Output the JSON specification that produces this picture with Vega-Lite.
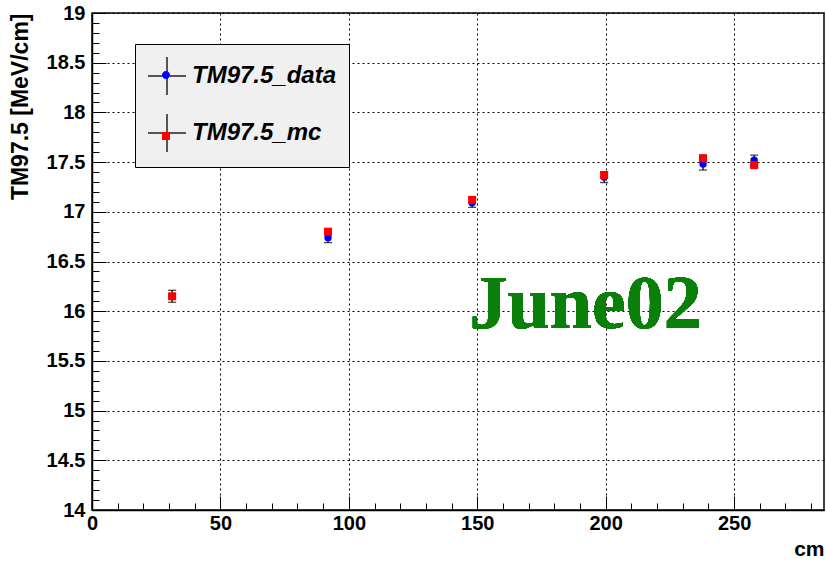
{
  "$schema": "https://vega.github.io/schema/vega-lite/v6.json",
  "width": 732,
  "height": 497,
  "autosize": "none",
  "padding": {"left": 92, "top": 13, "right": 2, "bottom": 51},
  "background": "white",
  "config": {
    "view": {"stroke": "black", "strokeWidth": 1.5},
    "axis": {
      "domainColor": "black",
      "domainWidth": 1.5,
      "tickColor": "black",
      "tickWidth": 1,
      "grid": true,
      "gridColor": "black",
      "gridDash": [2, 3],
      "gridWidth": 1,
      "labelFont": "Liberation Sans",
      "labelFontSize": 20,
      "labelFontWeight": "bold",
      "labelColor": "black",
      "labelOverlap": false,
      "labelFlush": false,
      "titleFont": "Liberation Sans",
      "titleFontSize": 23,
      "titleFontWeight": "bold",
      "titleColor": "black"
    }
  },
  "resolve": {"scale": {"shape": "independent", "color": "independent"}},
  "data": {
    "values": [
      {"x": 31.2, "y": 16.15, "lo": 16.09, "hi": 16.21, "series": "TM97.5_data"},
      {"x": 91.9, "y": 16.74, "lo": 16.69, "hi": 16.79, "series": "TM97.5_data"},
      {"x": 148.0, "y": 17.09, "lo": 17.045, "hi": 17.135, "series": "TM97.5_data"},
      {"x": 199.4, "y": 17.35, "lo": 17.295, "hi": 17.405, "series": "TM97.5_data"},
      {"x": 237.9, "y": 17.48, "lo": 17.42, "hi": 17.54, "series": "TM97.5_data"},
      {"x": 257.8, "y": 17.52, "lo": 17.47, "hi": 17.57, "series": "TM97.5_data"},
      {"x": 31.2, "y": 16.15, "lo": 16.13, "hi": 16.17, "series": "TM97.5_mc"},
      {"x": 91.9, "y": 16.8, "lo": 16.78, "hi": 16.82, "series": "TM97.5_mc"},
      {"x": 148.0, "y": 17.12, "lo": 17.1, "hi": 17.14, "series": "TM97.5_mc"},
      {"x": 199.4, "y": 17.37, "lo": 17.35, "hi": 17.39, "series": "TM97.5_mc"},
      {"x": 237.9, "y": 17.54, "lo": 17.52, "hi": 17.56, "series": "TM97.5_mc"},
      {"x": 257.8, "y": 17.47, "lo": 17.45, "hi": 17.49, "series": "TM97.5_mc"}
    ]
  },
  "encoding": {
    "x": {
      "field": "x",
      "type": "quantitative",
      "scale": {"domain": [0, 285], "nice": false, "zero": false},
      "axis": {
        "title": "cm",
        "values": [0, 10, 20, 30, 40, 50, 60, 70, 80, 90, 100, 110, 120, 130, 140, 150, 160, 170, 180, 190, 200, 210, 220, 230, 240, 250, 260, 270, 280],
        "labelExpr": "datum.value % 50 === 0 ? format(datum.value, '~g') : ''",
        "tickSize": {"condition": {"test": "datum.value % 50 === 0", "value": -14}, "value": -7},
        "gridOpacity": {"condition": {"test": "datum.value % 50 === 0", "value": 1}, "value": 0},
        "labelPadding": 17,
        "titleAnchor": "end",
        "titleAlign": "right",
        "titleX": 732,
        "titleY": 45,
        "titleFontSize": 21,
        "titleBaseline": "alphabetic"
      }
    },
    "y": {
      "field": "y",
      "type": "quantitative",
      "scale": {"domain": [14, 19], "nice": false, "zero": false},
      "axis": {
        "title": "TM97.5 [MeV/cm]",
        "values": [14, 14.1, 14.2, 14.3, 14.4, 14.5, 14.6, 14.7, 14.8, 14.9, 15, 15.1, 15.2, 15.3, 15.4, 15.5, 15.6, 15.7, 15.8, 15.9, 16, 16.1, 16.2, 16.3, 16.4, 16.5, 16.6, 16.7, 16.8, 16.9, 17, 17.1, 17.2, 17.3, 17.4, 17.5, 17.6, 17.7, 17.8, 17.9, 18, 18.1, 18.2, 18.3, 18.4, 18.5, 18.6, 18.7, 18.8, 18.9, 19],
        "labelExpr": "abs(datum.value*2 - round(datum.value*2)) < 0.001 ? format(datum.value, '~g') : ''",
        "tickSize": {"condition": {"test": "abs(datum.value*2 - round(datum.value*2)) < 0.001", "value": -14}, "value": -7},
        "gridOpacity": {"condition": {"test": "abs(datum.value*2 - round(datum.value*2)) < 0.001", "value": 1}, "value": 0},
        "labelPadding": 21,
        "titleAngle": -90,
        "titleX": -72,
        "titleY": 0,
        "titleAlign": "right",
        "titleBaseline": "middle"
      }
    }
  },
  "layer": [
    {
      "mark": {"type": "rule", "color": "black", "strokeWidth": 1.3},
      "encoding": {"y": {"field": "lo", "type": "quantitative"}, "y2": {"field": "hi"}}
    },
    {
      "mark": {"type": "tick", "orient": "horizontal", "size": 8, "thickness": 1.3, "color": "black"},
      "encoding": {"y": {"field": "lo", "type": "quantitative"}}
    },
    {
      "mark": {"type": "tick", "orient": "horizontal", "size": 8, "thickness": 1.3, "color": "black"},
      "encoding": {"y": {"field": "hi", "type": "quantitative"}}
    },
    {
      "transform": [{"filter": "datum.series === 'TM97.5_data'"}],
      "mark": {"type": "point", "shape": "circle", "filled": true, "opacity": 1, "size": 55, "color": "#0000ff"}
    },
    {
      "transform": [{"filter": "datum.series === 'TM97.5_mc'"}],
      "mark": {"type": "point", "shape": "square", "filled": true, "opacity": 1, "size": 64, "color": "#ff0000"}
    },
    {
      "transform": [{"filter": "datum.x < 0"}],
      "mark": {"type": "point", "filled": false, "opacity": 1, "size": 1444, "color": "#222222", "strokeWidth": 1.5},
      "encoding": {
        "shape": {
          "field": "series",
          "type": "nominal",
          "scale": {"domain": ["TM97.5_data", "TM97.5_mc"], "range": ["M-1,0H1M0,-1V1", "M-1,0H1M0,-1V1"]},
          "legend": {
            "orient": "none",
            "legendX": 43,
            "legendY": 31,
            "zindex": 1,
            "title": null,
            "fillColor": "#f0f0f0",
            "strokeColor": "black",
            "padding": 12,
            "symbolSize": 1444,
            "symbolStrokeWidth": 1.5,
            "symbolStrokeColor": "#222222",
            "symbolOpacity": 1,
            "labelFont": "Liberation Sans",
            "labelFontSize": 24,
            "labelFontWeight": "bold",
            "labelFontStyle": "italic",
            "labelColor": "black",
            "labelOffset": 5,
            "rowPadding": 13,
            "labelLimit": 300
          }
        }
      }
    },
    {
      "transform": [{"filter": "datum.x < 0"}],
      "mark": {"type": "point", "filled": true, "opacity": 1, "size": 1444, "strokeWidth": 0},
      "encoding": {
        "color": {
          "field": "series",
          "type": "nominal",
          "scale": {"domain": ["TM97.5_data", "TM97.5_mc"], "range": ["#0000ff", "#ff0000"]},
          "legend": {
            "orient": "none",
            "legendX": 43,
            "legendY": 31,
            "zindex": 2,
            "title": null,
            "fillColor": "transparent",
            "strokeColor": "transparent",
            "padding": 12,
            "symbolSize": 1444,
            "symbolStrokeWidth": 0,
            "symbolOpacity": 1,
            "labelFont": "Liberation Sans",
            "labelFontSize": 24,
            "labelFontWeight": "bold",
            "labelFontStyle": "italic",
            "labelOpacity": 0,
            "labelExpr": "''",
            "labelOffset": 5,
            "rowPadding": 30,
            "labelLimit": 300
          }
        },
        "shape": {
          "field": "series",
          "type": "nominal",
          "scale": {"domain": ["TM97.5_data", "TM97.5_mc"], "range": ["M0.21,0A0.21,0.21 0 1 1 -0.21,0A0.21,0.21 0 1 1 0.21,0Z", "M-0.21,-0.21H0.21V0.21H-0.21Z"]},
          "legend": {
            "orient": "none",
            "legendX": 43,
            "legendY": 31,
            "zindex": 2,
            "title": null,
            "fillColor": "transparent",
            "strokeColor": "transparent",
            "padding": 12,
            "symbolSize": 1444,
            "symbolStrokeWidth": 0,
            "symbolOpacity": 1,
            "labelFont": "Liberation Sans",
            "labelFontSize": 24,
            "labelFontWeight": "bold",
            "labelFontStyle": "italic",
            "labelOpacity": 0,
            "labelExpr": "''",
            "labelOffset": 5,
            "rowPadding": 30,
            "labelLimit": 300
          }
        }
      }
    },
    {
      "mark": {"type": "text", "text": "June02", "font": "Liberation Serif", "fontSize": 76, "fontWeight": "bold", "color": "#0a7f0a", "align": "left", "baseline": "alphabetic"},
      "encoding": {"x": {"datum": 147}, "y": {"datum": 15.83}}
    }
  ]
}
